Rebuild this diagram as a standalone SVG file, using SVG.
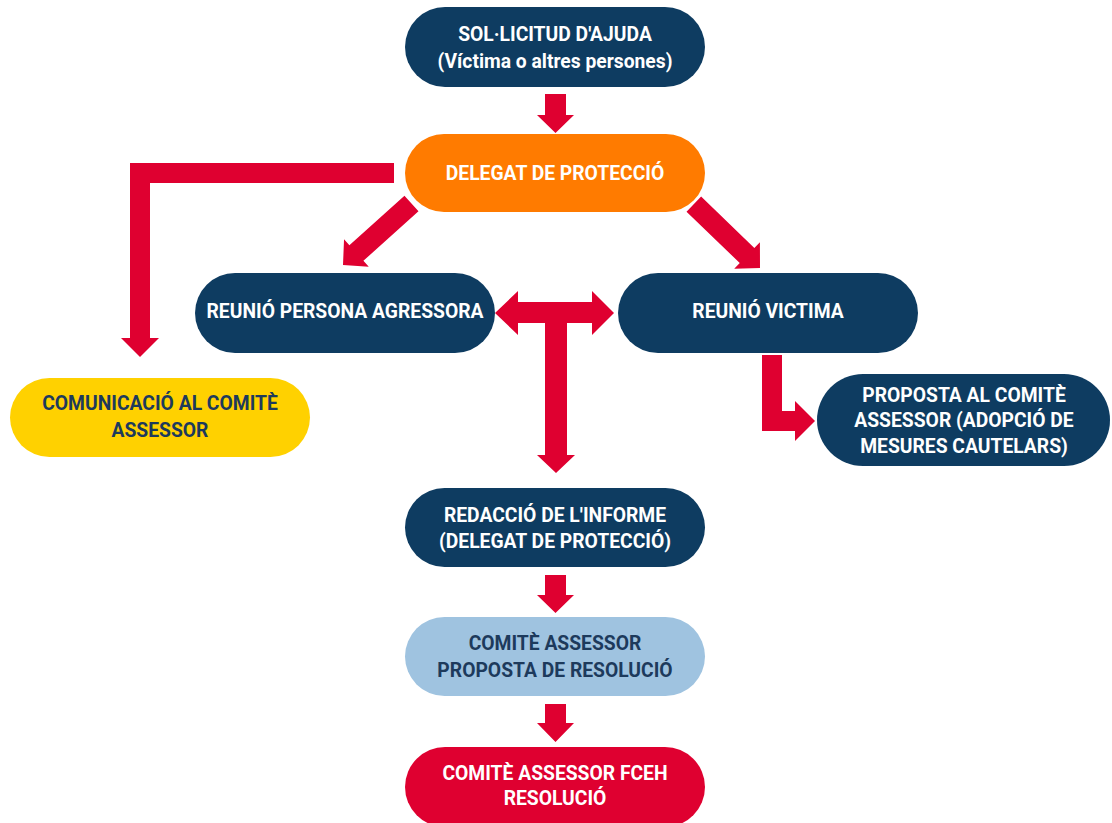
<svg xmlns="http://www.w3.org/2000/svg" width="1112" height="823" viewBox="0 0 1112 823">
<style>
.navy{fill:#0e3c61}
.orange{fill:#ff7b00}
.yellow{fill:#ffd100}
.light{fill:#9fc3e0}
.red{fill:#df0030}
.arr{fill:#df0030}
text{font-family:Roboto,"Liberation Sans",sans-serif;font-weight:bold;font-size:19.3px;text-anchor:middle}
.w{fill:#ffffff}
.d{fill:#1d3a5c}
</style>
<defs>
<polygon id="ah" points="0,0 -18,-18.5 -18,-10.5 -92,-10.5 -92,10.5 -18,10.5 -18,18.5"/>
</defs>
<rect width="1112" height="823" fill="#ffffff"/>
<g id="connectors" class="arr">
<polygon points="545,94 566,94 566,115 574,115 555.5,133 537,115 545,115"/>
<polygon points="394,163 394,183 150,183 150,338 159,338 140,357 121,338 130,338 130,163"/>
<use href="#ah" transform="translate(343,265) rotate(138.1)"/>
<use href="#ah" transform="translate(760,268) rotate(44)"/>
<polygon points="495,313 518,291 518,302 592,302 592,291 614,313 592,335 592,323 567,323 567,455 575,455 556,473 537,455 545,455 545,323 518,323 518,335"/>
<polygon points="762,355 782,355 782,411 795,411 795,401 815,421 795,441 795,431 762,431"/>
<polygon points="545,575 566,575 566,595 574,595 555.5,613 537,595 545,595"/>
<polygon points="545,704 566,704 566,723 574,723 555.5,742 537,723 545,723"/>
</g>
<g id="n-solicitud">
<rect class="navy" x="405" y="7" width="300" height="80" rx="40"/>
<text class="w" x="555" y="41">SOL·LICITUD D'AJUDA</text>
<text class="w" x="555" y="68">(Víctima o altres persones)</text>
</g>
<g id="n-delegat">
<rect class="orange" x="405" y="134" width="300" height="78" rx="39"/>
<text class="w" x="555" y="180">DELEGAT DE PROTECCIÓ</text>
</g>
<g id="n-agressora">
<rect class="navy" x="195" y="273" width="300" height="80" rx="40"/>
<text class="w" x="345" y="318">REUNIÓ PERSONA AGRESSORA</text>
</g>
<g id="n-victima">
<rect class="navy" x="618" y="273" width="300" height="80" rx="40"/>
<text class="w" x="768" y="318">REUNIÓ VICTIMA</text>
</g>
<g id="n-comunicacio">
<rect class="yellow" x="10" y="378" width="300" height="79" rx="39.5"/>
<text class="d" x="160" y="410">COMUNICACIÓ AL COMITÈ</text>
<text class="d" x="160" y="437">ASSESSOR</text>
</g>
<g id="n-proposta">
<rect class="navy" x="817" y="374" width="293" height="92" rx="46"/>
<text class="w" x="964" y="402">PROPOSTA AL COMITÈ</text>
<text class="w" x="964" y="427">ASSESSOR (ADOPCIÓ DE</text>
<text class="w" x="964" y="453">MESURES CAUTELARS)</text>
</g>
<g id="n-redaccio">
<rect class="navy" x="405" y="488" width="300" height="79" rx="39.5"/>
<text class="w" x="555" y="522">REDACCIÓ DE L'INFORME</text>
<text class="w" x="555" y="548">(DELEGAT DE PROTECCIÓ)</text>
</g>
<g id="n-comite-proposta">
<rect class="light" x="405" y="617" width="300" height="79" rx="39.5"/>
<text class="d" x="555" y="650">COMITÈ ASSESSOR</text>
<text class="d" x="555" y="677">PROPOSTA DE RESOLUCIÓ</text>
</g>
<g id="n-fceh">
<rect class="red" x="405" y="747" width="300" height="80" rx="40"/>
<text class="w" x="555" y="780">COMITÈ ASSESSOR FCEH</text>
<text class="w" x="555" y="805">RESOLUCIÓ</text>
</g>
</svg>
